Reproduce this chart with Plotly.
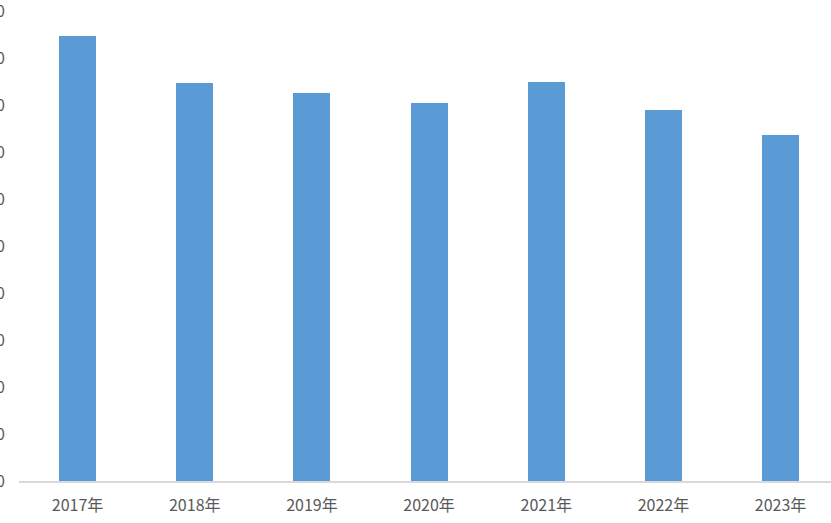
import plotly.graph_objects as go

categories = ["2017年", "2018年", "2019年", "2020年", "2021年", "2022年", "2023年"]
values = [94.7, 84.7, 82.6, 80.4, 84.9, 78.9, 73.6]
y_ticks = [0, 10, 20, 30, 40, 50, 60, 70, 80, 90, 100]

fig = go.Figure()
fig.add_trace(go.Bar(
    x=categories, y=values,
    marker=dict(color="#5B9BD5", line=dict(width=0)),
    width=0.316,
))

fig.update_layout(
    width=831, height=523,
    margin=dict(l=19, r=0, t=10, b=42, autoexpand=False),
    paper_bgcolor="white", plot_bgcolor="white",
    showlegend=False,
    font=dict(family="Noto Sans CJK SC, Liberation Sans, sans-serif", color="#595959", size=15),
    xaxis=dict(
        type="category", range=[-0.5, 6.43],
        showline=True, linecolor="#D9D9D9", linewidth=1.5,
        showgrid=False, ticks="", zeroline=False,
        ticklabelstandoff=9,
        tickfont=dict(size=16, color="#595959"),
        automargin=False,
    ),
    yaxis=dict(
        range=[0, 100.2], tickvals=y_ticks,
        showgrid=False, zeroline=False, showline=False, ticks="",
        ticklabelstandoff=13,
        ticklabeloverflow="allow",
        tickfont=dict(size=16, color="#595959"),
        automargin=False,
    ),
    bargap=0,
)

fig.write_html(
    "out.html",
    config={"displayModeBar": False},
    post_script="document.body.style.margin='0';document.body.style.overflow='hidden';",
)
